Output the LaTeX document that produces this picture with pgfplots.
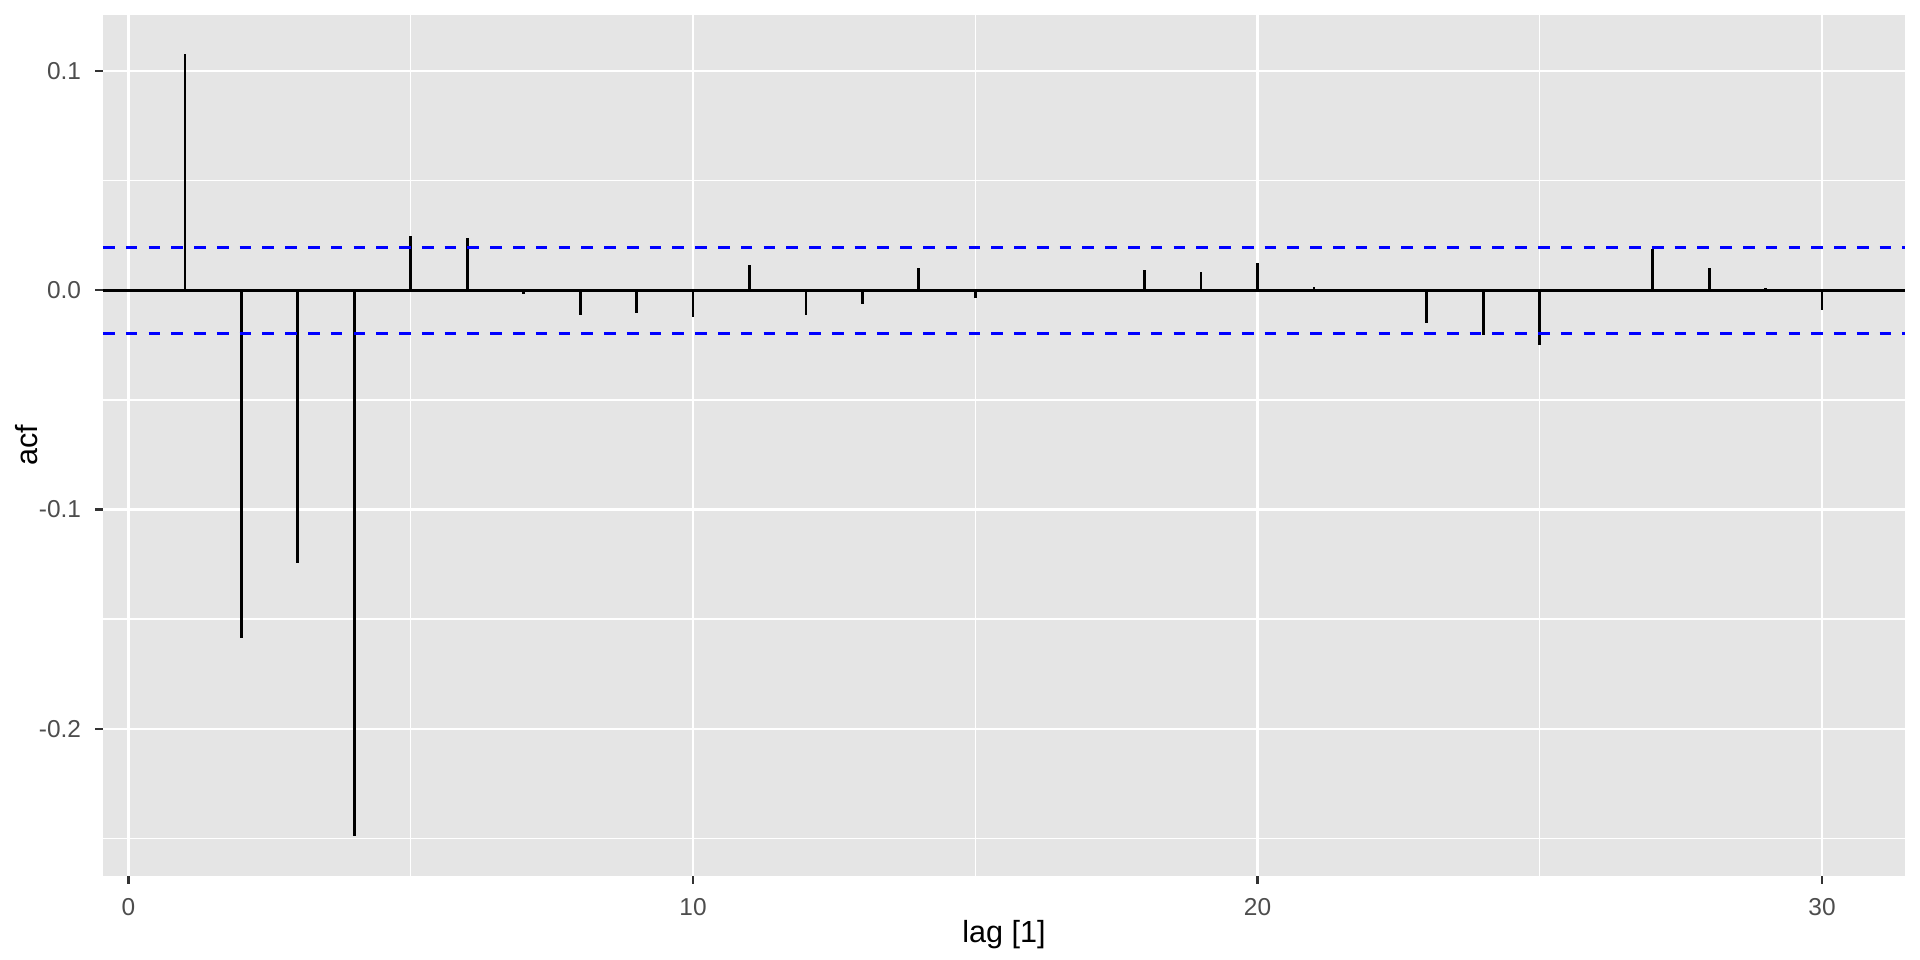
\documentclass[border=0pt]{standalone}
\usepackage{fontspec}
\setmainfont{Liberation Sans}
\usepackage{pgfplots}
\usepackage{pgfplotstable}
\pgfplotsset{compat=1.18}
\definecolor{panelbg}{HTML}{E5E5E5}
\definecolor{grey30}{HTML}{4D4D4D}
\definecolor{grey20}{HTML}{333333}
\pgfplotstableread{
lag acf
1 0.1078
2 -0.1587
3 -0.1245
4 -0.2490
5 0.0246
6 0.0236
7 -0.0017
8 -0.0113
9 -0.0103
10 -0.0123
11 0.0115
12 -0.0115
13 -0.0062
14 0.0100
15 -0.0035
16 -0.0009
17 0.0003
18 0.0091
19 0.0085
20 0.0124
21 0.0015
22 -0.0009
23 -0.0148
24 -0.0203
25 -0.0251
26 0.0001
27 0.0188
28 0.0103
29 0.0009
30 -0.0088
}\acftable
\begin{document}
\begin{tikzpicture}
\path[use as bounding box] (-37.08pt,-30.24pt) rectangle (654.12pt,315.36pt);
\begin{axis}[
  at={(0,0)}, anchor=south west,
  width=648.72pt, height=309.96pt, scale only axis,
  xmin=-0.452, xmax=31.47,
  ymin=-0.2671, ymax=0.1255,
  axis background/.style={fill=panelbg},
  axis line style={draw=none},
  xtick={0,10,20,30},
  xticklabels={0,10,20,30},
  ytick={-0.2,-0.1,0,0.1},
  yticklabels={-0.2,-0.1,0.0,0.1},
  minor xtick={5,15,25},
  minor ytick={-0.25,-0.15,-0.05,0.05},
  grid=both,
  major grid style={white, line width=0.9pt},
  minor grid style={white, line width=0.5pt},
  tick align=outside,
  xtick pos=bottom, ytick pos=left,
  major tick length=2.75pt,
  minor tick length=0pt,
  tick style={grey20, line width=0.9pt},
  ticklabel style={font=\fontsize{8.8}{10}\selectfont, text=grey30},
  xticklabel style={anchor=north, inner sep=0pt, yshift=-4.95pt},
  yticklabel style={anchor=east, inner sep=0pt, xshift=-4.95pt},
  xlabel={lag [1]},
  ylabel={acf},
  label style={font=\fontsize{11}{13}\selectfont, text=black},
  xlabel style={at={(axis description cs:0.5,-0.0684)}, anchor=center},
  ylabel style={at={(axis description cs:-0.0422,0.5)}, anchor=center},
]
\addplot[black, line width=1pt, line cap=butt] coordinates {(-0.452,0) (31.47,0)};
\addplot[black, line width=1pt, line cap=butt, quiver={u=0, v=\thisrow{acf}, every arrow/.append style={line width=1pt, line cap=butt}}] table[x=lag, y expr=0] {\acftable};
\addplot[blue, line width=1pt, dash pattern=on 4.2pt off 4pt] coordinates {(-0.452,0.0196) (31.47,0.0196)};
\addplot[blue, line width=1pt, dash pattern=on 4.2pt off 4pt] coordinates {(-0.452,-0.0196) (31.47,-0.0196)};
\end{axis}
\end{tikzpicture}
\end{document}
